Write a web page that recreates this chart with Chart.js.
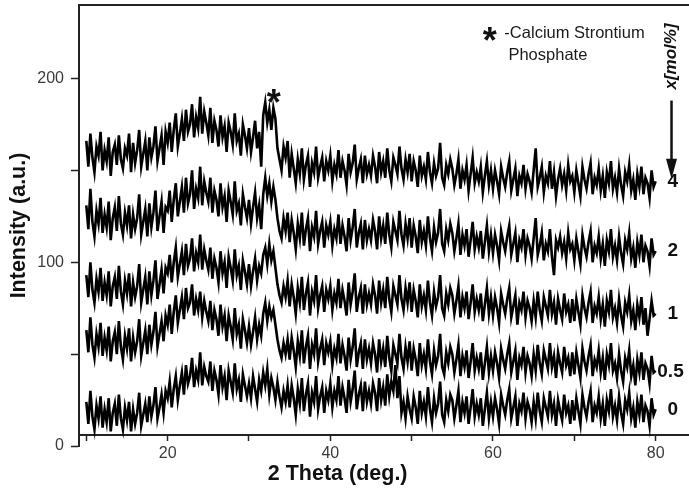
<!DOCTYPE html>
<html>
<head>
<meta charset="utf-8">
<title>XRD patterns</title>
<script src="https://cdn.jsdelivr.net/npm/chart.js@4.4.1/dist/chart.umd.min.js"></script>
<style>
  body { margin: 0; background: #fff; }
  #wrap { width: 689px; height: 489px; }
</style>
</head>
<body>
<div id="wrap"><canvas id="xrdChart" width="689" height="489"></canvas></div>
<script>
// 2 Theta (deg.), one row = 5 degrees
const twoTheta = [
    10,10.25,10.5,10.75,11,11.25,11.5,11.75,12,12.25,12.5,12.75,13,13.25,13.5,13.75,14,14.25,14.5,14.75,
    15,15.25,15.5,15.75,16,16.25,16.5,16.75,17,17.25,17.5,17.75,18,18.25,18.5,18.75,19,19.25,19.5,19.75,
    20,20.25,20.5,20.75,21,21.25,21.5,21.75,22,22.25,22.5,22.75,23,23.25,23.5,23.75,24,24.25,24.5,24.75,
    25,25.25,25.5,25.75,26,26.25,26.5,26.75,27,27.25,27.5,27.75,28,28.25,28.5,28.75,29,29.25,29.5,29.75,
    30,30.25,30.5,30.75,31,31.25,31.5,31.75,32,32.25,32.5,32.75,33,33.25,33.5,33.75,34,34.25,34.5,34.75,
    35,35.25,35.5,35.75,36,36.25,36.5,36.75,37,37.25,37.5,37.75,38,38.25,38.5,38.75,39,39.25,39.5,39.75,
    40,40.25,40.5,40.75,41,41.25,41.5,41.75,42,42.25,42.5,42.75,43,43.25,43.5,43.75,44,44.25,44.5,44.75,
    45,45.25,45.5,45.75,46,46.25,46.5,46.75,47,47.25,47.5,47.75,48,48.25,48.5,48.75,49,49.25,49.5,49.75,
    50,50.25,50.5,50.75,51,51.25,51.5,51.75,52,52.25,52.5,52.75,53,53.25,53.5,53.75,54,54.25,54.5,54.75,
    55,55.25,55.5,55.75,56,56.25,56.5,56.75,57,57.25,57.5,57.75,58,58.25,58.5,58.75,59,59.25,59.5,59.75,
    60,60.25,60.5,60.75,61,61.25,61.5,61.75,62,62.25,62.5,62.75,63,63.25,63.5,63.75,64,64.25,64.5,64.75,
    65,65.25,65.5,65.75,66,66.25,66.5,66.75,67,67.25,67.5,67.75,68,68.25,68.5,68.75,69,69.25,69.5,69.75,
    70,70.25,70.5,70.75,71,71.25,71.5,71.75,72,72.25,72.5,72.75,73,73.25,73.5,73.75,74,74.25,74.5,74.75,
    75,75.25,75.5,75.75,76,76.25,76.5,76.75,77,77.25,77.5,77.75,78,78.25,78.5,78.75,79,79.25,79.5,79.75,
    80
];

// intensity (a.u.), curves as stacked in the figure
const intensity0 = [
    24,12,30,16,9,22,15,27,10,20,13,26,8,18,23,11,28,15,9,21,
    14,24,8,20,12,18,29,11,17,23,13,27,16,22,32,15,21,28,18,30,
    26,35,21,31,38,25,33,40,28,44,34,38,48,32,41,36,51,33,43,38,
    35,46,30,41,36,28,44,32,38,25,41,35,29,45,31,36,24,39,33,27,
    34,26,38,31,24,36,30,40,33,42,28,37,32,25,35,27,21,30,24,33,
    21,33,26,17,31,23,37,19,28,34,16,29,24,38,20,27,32,18,30,25,
    34,21,30,25,38,22,32,26,18,36,24,31,41,20,28,33,19,35,24,30,
    23,34,29,19,37,25,32,22,39,27,35,30,44,26,38,18,24,15,27,20,
    15,27,21,12,30,18,24,16,32,20,13,26,18,23,35,17,13,25,19,28,
    25,15,22,30,13,24,18,27,12,21,31,16,23,17,26,11,20,29,15,24,
    16,26,20,12,28,22,17,25,31,15,21,27,11,23,19,29,15,24,20,13,
    24,15,29,19,13,26,21,16,30,17,23,11,25,19,14,28,18,22,12,25,
    14,26,19,12,28,21,16,24,30,13,22,18,27,15,23,11,25,19,31,16,
    22,14,27,18,12,25,20,29,15,21,10,24,17,28,13,22,19,11,26,17,
    20
];
const intensity05 = [
    63,51,70,55,48,61,54,67,49,59,52,65,46,57,62,50,68,54,47,60,
    53,64,46,59,51,57,69,49,56,63,50,66,55,62,73,54,61,68,57,71,
    66,77,61,73,82,67,74,81,69,86,75,78,88,71,80,74,84,70,79,73,
    68,79,63,74,69,60,77,65,71,57,71,65,58,75,61,66,53,69,63,56,
    65,55,62,70,58,66,60,72,78,68,76,70,74,66,58,52,48,56,50,58,
    47,59,52,43,57,49,63,45,54,60,42,55,50,64,46,53,58,44,56,51,
    57,44,53,48,61,45,55,49,41,59,47,54,64,43,51,56,42,58,47,53,
    45,56,50,40,58,46,53,43,60,48,41,55,50,45,61,48,42,54,46,57,
    41,53,47,38,56,44,50,42,58,46,39,52,44,49,61,43,39,51,45,54,
    50,40,47,55,38,49,43,52,37,46,56,41,48,42,51,36,45,54,40,49,
    41,51,45,37,53,47,42,50,56,40,46,52,36,48,44,54,40,49,45,38,
    50,41,55,45,39,52,47,42,56,43,49,37,51,45,40,54,44,48,38,51,
    39,51,44,37,53,46,41,49,55,38,47,43,52,40,48,36,50,44,56,41,
    45,37,50,41,35,48,43,52,38,44,33,47,40,51,36,45,42,34,49,40,
    41
];
const intensity1 = [
    93,81,100,85,78,91,84,97,79,89,82,95,76,87,92,80,98,84,77,90,
    83,94,76,89,81,87,99,78,85,92,77,95,82,90,101,80,88,96,83,97,
    94,104,89,100,108,92,99,106,93,110,98,102,113,95,105,100,115,96,107,101,
    96,108,91,102,97,89,106,94,100,86,103,97,90,107,93,98,85,101,95,88,
    99,87,95,102,90,98,94,104,108,99,110,101,106,97,88,82,78,87,81,90,
    76,88,81,72,86,78,92,74,83,89,71,84,79,93,75,82,87,73,85,80,
    87,74,83,78,91,75,85,79,71,89,77,84,94,73,81,86,72,88,77,83,
    77,88,82,72,90,78,85,75,92,80,73,87,82,77,93,80,74,86,78,89,
    73,85,79,70,88,76,82,74,90,78,71,84,76,81,93,75,71,83,77,86,
    82,72,79,87,70,81,75,84,69,78,88,73,80,74,83,68,77,86,72,81,
    71,81,75,67,83,77,72,80,86,70,76,82,66,78,74,84,70,79,75,68,
    79,70,84,74,68,81,76,71,85,72,78,66,80,74,69,83,73,77,67,80,
    68,80,73,66,82,75,70,78,84,67,76,72,81,69,77,65,79,73,85,70,
    75,67,80,71,65,78,73,82,68,74,63,77,70,81,66,75,60,69,79,71,
    72
];
const intensity2 = [
    131,118,140,122,114,128,121,135,116,126,119,133,112,124,130,117,136,121,115,127,
    120,131,113,126,118,124,137,115,122,129,114,132,119,127,139,117,125,133,116,130,
    128,139,122,134,143,125,133,141,127,146,132,137,150,129,140,135,152,131,144,138,
    133,146,127,139,134,125,143,130,136,122,139,133,126,144,128,132,120,137,130,124,
    134,121,130,138,124,131,118,137,146,136,143,133,141,134,124,117,113,124,117,127,
    111,123,116,107,121,113,127,109,118,124,106,119,114,128,110,117,122,108,120,115,
    122,109,118,113,126,110,120,114,106,124,112,119,129,108,116,121,107,123,112,118,
    112,123,117,107,125,113,120,110,127,115,108,122,117,112,128,115,109,121,113,124,
    108,120,114,105,123,111,117,109,125,113,106,119,111,116,129,110,106,118,112,121,
    116,106,113,121,104,115,109,118,103,112,122,107,114,108,117,102,111,120,106,115,
    105,115,109,101,117,111,106,114,120,104,110,116,100,112,108,118,104,113,109,102,
    113,124,104,109,116,101,110,106,118,103,93,112,108,114,105,111,102,116,107,110,
    101,113,106,99,115,108,103,111,117,100,109,105,114,102,110,98,112,106,118,103,
    109,101,114,105,99,112,107,116,102,108,97,111,104,115,100,109,106,98,113,104,
    106
];
const intensity4 = [
    166,152,170,157,149,163,158,171,150,161,155,168,147,160,164,153,169,156,151,162,
    158,170,149,165,154,161,172,152,159,166,150,168,157,163,174,155,162,169,153,171,
    165,176,160,172,181,163,170,178,166,183,171,175,186,168,179,173,190,170,182,176,
    169,184,165,177,172,163,180,168,174,160,176,171,164,181,166,170,158,175,169,162,
    173,160,168,177,162,171,152,180,187,176,183,172,184,178,162,156,150,163,157,166,
    146,159,151,143,156,148,162,145,153,158,141,154,149,163,146,152,157,144,155,150,
    158,144,153,148,161,146,155,150,142,159,149,154,164,145,151,156,143,158,148,153,
    147,158,152,143,160,149,155,146,162,150,144,157,153,148,163,151,145,156,149,159,
    144,155,150,141,158,147,152,145,160,149,143,154,147,151,165,146,142,153,148,156,
    151,142,148,156,140,150,145,153,139,148,157,143,149,144,152,138,147,155,142,150,
    140,150,144,137,152,146,141,149,155,139,145,151,136,147,143,153,140,148,144,138,
    150,162,141,146,152,138,147,143,155,140,149,136,145,151,142,148,139,153,144,147,
    138,150,143,136,152,145,140,148,154,137,146,142,151,139,147,135,149,143,155,140,
    146,138,151,142,136,149,144,153,139,145,134,148,141,152,137,146,143,135,150,141,
    144
];

// x [mol%] for each curve, same order as above
const seriesLabels = ['0', '0.5', '1', '2', '4'];
const legendLines = ['-Calcium Strontium', 'Phosphate'];

document.addEventListener('DOMContentLoaded', function () {
    const FONT = '"Liberation Sans", Arial, sans-serif';
    Chart.defaults.font.family = FONT;

    function pattern(label, values) {
        return {
            label: label,
            data: values,
            borderColor: '#000',
            borderWidth: 2.6,
            borderJoinStyle: 'miter',
            pointRadius: 0,
            tension: 0,
            fill: false
        };
    }

    // frame top, curve labels, arrow, star marks and x title
    const annotations = {
        id: 'annotations',
        afterDraw(chart) {
            const {ctx, chartArea: area, scales: {x, y}} = chart;
            ctx.save();

            ctx.strokeStyle = '#222';
            ctx.lineWidth = 2;
            ctx.beginPath();
            ctx.moveTo(area.left - 1, area.top);
            ctx.lineTo(area.right, area.top);
            ctx.stroke();

            // labels at the right end of the curves
            const tagLevels = [19.7, 40.5, 72.2, 106.1, 143.8];
            ctx.fillStyle = '#111';
            ctx.font = 'bold 19px ' + FONT;
            ctx.textBaseline = 'middle';
            seriesLabels.forEach(function (txt, i) {
                const wide = txt.length > 1;
                ctx.textAlign = wide ? 'left' : 'center';
                ctx.fillText(txt, x.getPixelForValue(wide ? 80.2 : 82.1), y.getPixelForValue(tagLevels[i]));
            });

            // arrow x[mol%]
            const ax = x.getPixelForValue(81.95);
            const tip = y.getPixelForValue(145.5);
            ctx.strokeStyle = '#111';
            ctx.lineWidth = 2.5;
            ctx.beginPath();
            ctx.moveTo(ax, y.getPixelForValue(188));
            ctx.lineTo(ax, tip - 12);
            ctx.stroke();
            ctx.beginPath();
            ctx.moveTo(ax - 5.5, tip - 20);
            ctx.lineTo(ax + 5.5, tip - 20);
            ctx.lineTo(ax, tip);
            ctx.closePath();
            ctx.fill();

            ctx.save();
            ctx.translate(ax, y.getPixelForValue(212));
            ctx.rotate(-Math.PI / 2);
            ctx.font = 'italic bold 17px ' + FONT;
            ctx.textAlign = 'center';
            ctx.fillText('x[mol%]', 0, 0);
            ctx.restore();

            // legend text
            ctx.font = '16.5px ' + FONT;
            ctx.fillStyle = '#1a1a1a';
            ctx.textAlign = 'left';
            ctx.fillText(legendLines[0], x.getPixelForValue(61.4), y.getPixelForValue(224.7));
            ctx.fillText(legendLines[1], x.getPixelForValue(61.9), y.getPixelForValue(212.7));

            // star marks
            ctx.font = 'bold 36px ' + FONT;
            ctx.fillStyle = '#111';
            ctx.textAlign = 'center';
            ctx.textBaseline = 'alphabetic';
            ctx.fillText('*', x.getPixelForValue(59.6), y.getPixelForValue(224.7) + 20);
            ctx.fillText('*', x.getPixelForValue(33.05), y.getPixelForValue(190.8) + 20);

            // x axis title
            ctx.font = 'bold 21.5px ' + FONT;
            ctx.textBaseline = 'middle';
            ctx.fillText('2 Theta (deg.)', x.getPixelForValue(40.9), area.bottom + 28);

            ctx.restore();
        }
    };

    const xrdCtx = document.getElementById('xrdChart').getContext('2d');
    new Chart(xrdCtx, {
        type: 'line',
        data: {
            labels: twoTheta,
            datasets: [
                pattern('0', intensity0),
                pattern('0.5', intensity05),
                pattern('1', intensity1),
                pattern('2', intensity2),
                pattern('4', intensity4)
            ]
        },
        options: {
            responsive: false,
            animation: false,
            layout: { padding: { top: 5, right: 0, bottom: 43, left: 0 } },
            plugins: {
                legend: { display: false },
                tooltip: { enabled: false }
            },
            scales: {
                x: {
                    type: 'linear',
                    position: { y: 6 },
                    min: 9.1,
                    max: 84.1,
                    grid: { drawOnChartArea: false, color: '#222', tickLength: 5, tickWidth: 1.5 },
                    border: { color: '#222', width: 2 },
                    ticks: {
                        stepSize: 10,
                        includeBounds: false,
                        autoSkip: false,
                        maxRotation: 0,
                        padding: 4,
                        color: '#3a3a3a',
                        font: { size: 16 },
                        callback: function (v) { return v % 20 === 0 ? String(v) : ''; }
                    }
                },
                y: {
                    min: 0,
                    max: 240,
                    afterFit: function (scale) {
                        scale.width = 79;
                        scale.paddingTop = 0;
                        scale.paddingBottom = 0;
                    },
                    grid: { drawOnChartArea: false, color: '#222', tickLength: 8, tickWidth: 1.5 },
                    border: { color: '#222', width: 2 },
                    ticks: {
                        stepSize: 50,
                        includeBounds: false,
                        padding: 7,
                        color: '#3a3a3a',
                        font: { size: 16 },
                        callback: function (v) { return v % 100 === 0 ? String(v) : ''; }
                    },
                    title: {
                        display: true,
                        text: 'Intensity (a.u.)',
                        color: '#111',
                        font: { size: 21.5, weight: 'bold' },
                        padding: { top: 6, bottom: 0 }
                    }
                }
            }
        },
        plugins: [annotations]
    });
});
</script>
</body>
</html>
